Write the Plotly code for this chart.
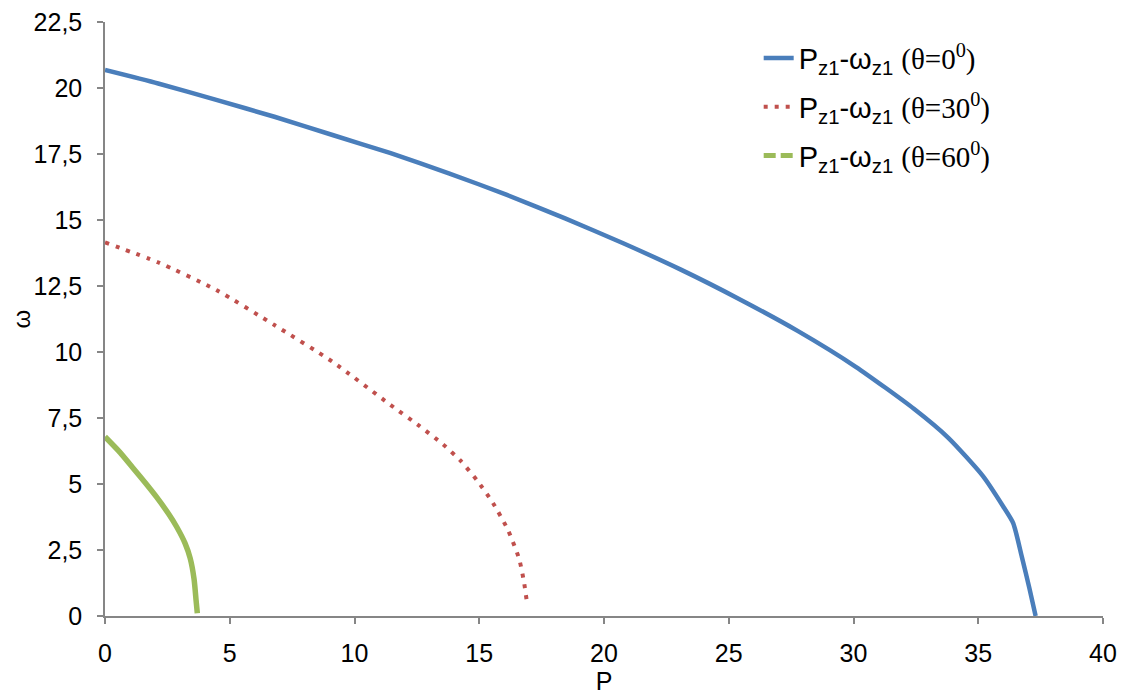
import plotly.graph_objects as go

# θ = 0°
p_0 = [0, 2.13, 4.46, 6.79, 9.12, 11.45, 13.78, 16.11, 18.44, 20.77, 23.1, 25.43,
       27.76, 30.09, 32.42, 33.8, 35.19, 36.0, 36.4, 36.75, 37.05, 37.3]
w_0 = [20.68, 20.17, 19.55, 18.91, 18.22, 17.53, 16.77, 15.95, 15.06, 14.12, 13.11, 12.0,
       10.8, 9.44, 7.85, 6.75, 5.3, 4.15, 3.52, 2.23, 1.05, 0.0]

# θ = 30°
p_30 = [0, 2.12, 4.46, 6.79, 9.12, 11.45, 12.6, 13.55, 14.23, 14.9, 15.55, 16.15, 16.6, 16.8, 16.93]
w_30 = [14.15, 13.4, 12.35, 11.02, 9.63, 7.99, 7.2, 6.5, 5.9, 5.15, 4.28, 3.26, 2.16, 1.25, 0.38]

# θ = 60°
p_60 = [0, 0.6, 1.13, 1.67, 2.07, 2.54, 2.87, 3.21, 3.41, 3.57, 3.65, 3.7]
w_60 = [6.79, 6.2, 5.6, 4.98, 4.5, 3.88, 3.38, 2.75, 2.2, 1.4, 0.6, 0.1]

names = ["0", "30", "60"]
colors = ["#4A7EBB", "#C0504D", "#9BBB59"]

def label(t):
    serif = "Liberation Serif"
    return ("P<sub>z1</sub>-ω<sub>z1</sub> "
            f"<span style='font-family:{serif}'>(θ={t}<sup>0</sup>)</span>")

fig = go.Figure()
fig.add_trace(go.Scatter(x=p_0, y=w_0, mode="lines", name=label(names[0]),
                         line=dict(color=colors[0], width=4.5, shape="spline", smoothing=0.6),
                         legendgroup="a"))
fig.add_trace(go.Scatter(x=p_30, y=w_30, mode="lines", name=label(names[1]),
                         line=dict(color=colors[1], width=4, dash="4px,7px",
                                   shape="spline", smoothing=0.6),
                         legendgroup="b"))
fig.add_trace(go.Scatter(x=p_60, y=w_60, mode="lines", name=label(names[2]),
                         line=dict(color=colors[2], width=5.5, shape="spline", smoothing=0.6),
                         legendgroup="c", showlegend=False))
fig.add_trace(go.Scatter(x=[None], y=[None], mode="lines", name=label(names[2]),
                         line=dict(color=colors[2], width=5, dash="12px,5px"),
                         legendgroup="c"))

axis_common = dict(
    showgrid=False, zeroline=False, showline=True, linecolor="#868686", linewidth=1.5,
    ticks="outside", ticklen=6, tickcolor="#868686", tickwidth=1.5, automargin=False,
    ticklabeloverflow="allow",
    tickfont=dict(size=25, color="black", family="Liberation Sans, Arial"),
)

fig.update_layout(
    width=1127, height=695,
    margin=dict(l=97, r=32, t=14, b=87),
    paper_bgcolor="white", plot_bgcolor="white",
    separators=", ",
    font=dict(family="Liberation Sans, Arial", color="black"),
    xaxis=dict(range=[0, 40], dtick=5, tick0=0, ticklabelstandoff=8,
               title=dict(text="P", font=dict(size=25), standoff=0), **axis_common),
    yaxis=dict(range=[0, 22.5], dtick=2.5, tick0=0, ticklabelstandoff=10,
               title=dict(text="ω", font=dict(size=24), standoff=8), **axis_common),
    legend=dict(x=0.655, y=0.982, xanchor="left", yanchor="top",
                font=dict(size=29, color="black", family="Liberation Sans, Arial"),
                tracegroupgap=8, bgcolor="rgba(0,0,0,0)"),
    showlegend=True,
)

fig.write_html("out.html")
